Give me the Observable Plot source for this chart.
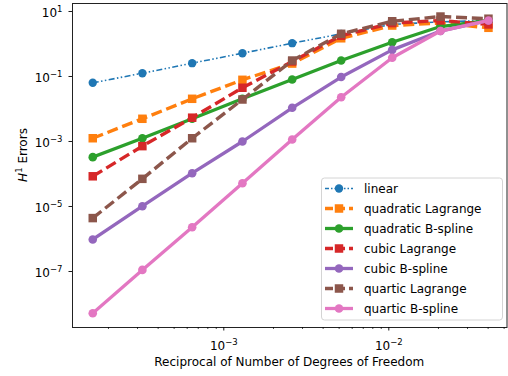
<!DOCTYPE html>
<html>
<head>
<meta charset="utf-8">
<script src="https://cdn.jsdelivr.net/npm/d3@7"></script>
<script src="https://cdn.jsdelivr.net/npm/@observablehq/plot@0.6"></script>
<style>
  html, body { margin: 0; padding: 0; background: #fff; }
  #wrap { position: relative; width: 508px; height: 376px; font-family: "DejaVu Sans", sans-serif; }
  #legend { position: absolute; left: 0; top: 0; pointer-events: none; }
</style>
</head>
<body>
<div id="wrap"></div>
<script>
// ---- data ----
const xValues = [1.606e-4, 3.21e-4, 6.43e-4, 1.297e-3, 2.597e-3, 5.145e-3, 1.0486e-2, 2.057e-2, 4.018e-2];
const seriesNames = ["linear", "quadratic Lagrange", "quadratic B-spline", "cubic Lagrange", "cubic B-spline", "quartic Lagrange", "quartic B-spline"];
const linear    = [0.064, 0.126, 0.257, 0.52, 1.06, 2.05, 4.0, 4.8, 5.3];
const quadLag   = [1.26e-3, 5.0e-3, 0.0206, 0.079, 0.25, 1.5, 3.7, 4.4, 3.15];
const quadB     = [3.3e-4, 1.26e-3, 5.0e-3, 0.0206, 0.081, 0.31, 1.13, 3.45, 5.3];
const cubicLag  = [8.5e-5, 7.2e-4, 5.4e-3, 0.045, 0.29, 1.8, 4.4, 5.3, 4.0];
const cubicB    = [9.7e-7, 1.02e-5, 1.06e-4, 1.0e-3, 0.0109, 0.096, 0.66, 2.5, 5.3];
const quartLag  = [4.4e-6, 7.1e-5, 1.26e-3, 0.0196, 0.31, 2.06, 5.0, 7.0, 6.0];
const quartB    = [5.2e-9, 1.12e-7, 2.3e-6, 5.2e-5, 1.15e-3, 0.023, 0.376, 2.5, 5.3];
const seriesValues = [linear, quadLag, quadB, cubicLag, cubicB, quartLag, quartB];
const xMajorTicks = [1e-3, 1e-2];
const xMinorTicks = [2e-4,3e-4,4e-4,5e-4,6e-4,7e-4,8e-4,9e-4,2e-3,3e-3,4e-3,5e-3,6e-3,7e-3,8e-3,9e-3,2e-2,3e-2,4e-2,5e-2];
const yMajorTicks = [1e1, 1e-1, 1e-3, 1e-5, 1e-7];
const xLabel = "Reciprocal of Number of Degrees of Freedom";

// ---- styles ----
const colors = ["#1f77b4", "#ff7f0e", "#2ca02c", "#d62728", "#9467bd", "#8c564b", "#e377c2"];
const styleOf = (i) => {
  if (i === 0) return {dash: "6,2.4,1.5,2.4,1.5,2.4", width: 1.6, symbol: "circle", r: 4.2};
  if (i % 2 === 1) return {dash: "11,4.8", width: 3.4, symbol: "square", r: 4.8};
  return {dash: null, width: 3.3, symbol: "circle", r: 4.3};
};

const rows = [];
seriesNames.forEach((name, i) => {
  seriesValues[i].forEach((v, j) => rows.push({series: name, idx: i, x: xValues[j], y: v}));
});

// tick label: "10|exponent" (rebuilt below with a real superscript)
const fmt = d => "10|" + Math.round(Math.log10(d));

const W = 508, H = 376;
const marks = [];
seriesNames.forEach((name, i) => {
  const s = styleOf(i);
  const data = rows.filter(r => r.idx === i);
  marks.push(Plot.line(data, {x: "x", y: "y", stroke: colors[i], strokeWidth: s.width,
    strokeDasharray: s.dash, strokeLinecap: s.dash ? "butt" : "square", strokeLinejoin: "round"}));
  marks.push(Plot.dot(data, {x: "x", y: "y", fill: colors[i], stroke: "none", symbol: s.symbol, r: s.r}));
});

const chart = Plot.plot({
  width: W, height: H,
  marginLeft: 72, marginRight: 1.5, marginTop: 3, marginBottom: 49,
  style: {fontFamily: "DejaVu Sans, sans-serif", fontSize: "12px", background: "#fff", color: "#000"},
  x: {type: "log", domain: [Math.pow(10, -3.917), Math.pow(10, -1.2836)]},
  y: {type: "log", domain: [Math.pow(10, -8.723), Math.pow(10, 1.246)]},
  marks: [
    ...marks,
    Plot.frame({stroke: "#222", strokeWidth: 1}),
    Plot.axisX({ticks: xMinorTicks, tickFormat: () => "", tickSize: 2, strokeWidth: 0.7, label: null}),
    Plot.axisX({ticks: xMajorTicks, tickFormat: fmt, tickSize: 3.5, tickPadding: 3.5, strokeWidth: 0.9, label: null, fontSize: 12}),
    Plot.axisY({ticks: yMajorTicks, tickFormat: fmt, tickSize: 3.5, tickPadding: 6.5, strokeWidth: 0.9, label: null, fontSize: 12})
  ]
});
document.getElementById("wrap").appendChild(chart);

const svg = d3.select(chart);
// rebuild tick labels as 10 with a superscript exponent (mathtext-like)
svg.selectAll('g[aria-label="x-axis tick label"] text, g[aria-label="y-axis tick label"] text').each(function () {
  const t = d3.select(this);
  const s = t.text();
  if (!s.includes("|")) return;
  const isX = this.parentNode.getAttribute("aria-label").startsWith("x");
  const exp = s.split("|")[1].replace("-", "\u2212");
  t.text("");
  t.attr("y", isX ? 15 : 5.5);
  t.append("tspan").text("10");
  t.append("tspan").attr("dy", -5).style("font-size", "8.5px").text(exp);
});

// axis titles
svg.append("text")
  .attr("x", (72 + W - 1.5) / 2).attr("y", 366)
  .attr("text-anchor", "middle").attr("fill", "#000")
  .style("font-size", "12px").style("font-family", "DejaVu Sans, sans-serif")
  .text(xLabel);
const yl = svg.append("text")
  .attr("transform", "translate(27,155) rotate(-90)")
  .attr("text-anchor", "middle").attr("fill", "#000")
  .style("font-size", "12px").style("font-family", "DejaVu Sans, sans-serif");
yl.append("tspan").style("font-style", "italic").text("H");
yl.append("tspan").attr("dy", -5).style("font-size", "8.5px").text("1");
yl.append("tspan").attr("dy", 5).text(" Errors");

// legend
const lg = d3.select("#wrap").append("svg").attr("id", "legend").attr("width", W).attr("height", H);
lg.append("rect").attr("x", 321.5).attr("y", 178).attr("width", 181).attr("height", 142)
  .attr("rx", 3).attr("fill", "rgba(255,255,255,0.8)").attr("stroke", "#d4d4d4").attr("stroke-width", 1);
seriesNames.forEach((name, i) => {
  const s = styleOf(i);
  const cy = 188.5 + 20 * i;
  const g = lg.append("g");
  g.append("line").attr("x1", 325).attr("x2", 353).attr("y1", cy).attr("y2", cy)
    .attr("stroke", colors[i]).attr("stroke-width", s.width)
    .attr("stroke-dasharray", i === 0 ? "4,2,1.5,2,1.5,2" : (s.dash ? "8,4" : null));
  const sym = d3.symbol().type(s.symbol === "square" ? d3.symbolSquare : d3.symbolCircle).size(Math.PI * s.r * s.r);
  g.append("path").attr("d", sym()).attr("transform", `translate(339,${cy})`).attr("fill", colors[i]);
  g.append("text").attr("x", 364).attr("y", cy + 4.3).attr("fill", "#000")
    .style("font-size", "12px").style("font-family", "DejaVu Sans, sans-serif").text(name);
});
</script>
</body>
</html>
